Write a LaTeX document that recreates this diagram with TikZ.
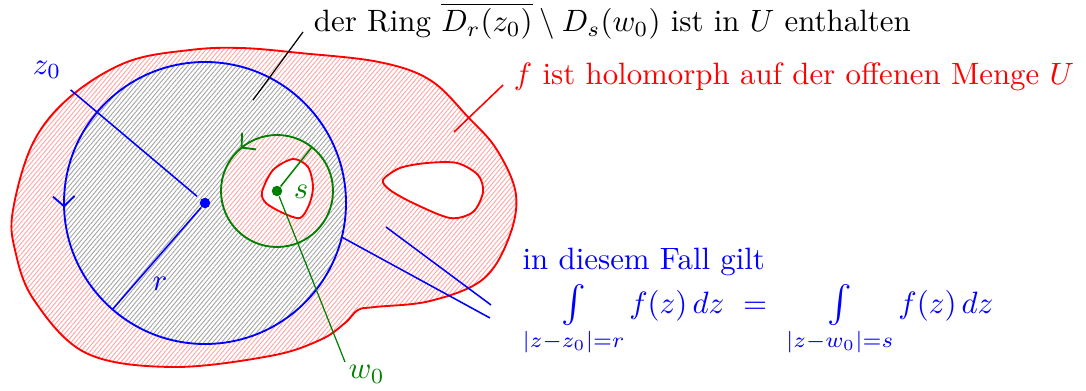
\documentclass[tikz,border=0pt]{standalone}
\usepackage{amsmath, amsfonts, amssymb}
\usepackage{xcolor}
\usepackage{tikz}
\usetikzlibrary{arrows.meta,patterns.meta,decorations.markings,calc}

\newcommand{\grossint}{\mathop{\vcenter{\hbox{\large$\int$}}}\limits}

\begin{document}
\begin{tikzpicture}[x=0.324pt, y=0.324pt,
    rand/.style={draw=red, line width=0.6pt},
    kreis/.style={line width=0.6pt},
    zeiger/.style={line width=0.5pt},
    punkt/.style={circle, fill, inner sep=0pt, minimum size=3.4pt},
    pfeil/.style={postaction={decorate}, decoration={markings,
        mark=at position #1 with {\arrow{Straight Barb[length=3.2pt,width=7pt]}}}},
    schraffurrot/.style={pattern={Lines[angle=50,distance=1.1pt,line width=0.3pt]}, pattern color=red!35},
    schraffurgrau/.style={pattern={Lines[angle=50,distance=1.1pt,line width=0.3pt]}, pattern color=gray!70}
]
\useasboundingbox (0,0) rectangle (1086,390);

% Mittelpunkte
\coordinate (mz) at (205,187);
\coordinate (mw) at (277,199);

% Menge U mit Loechern
\draw[rand, schraffurrot, even odd rule]
  plot[smooth cycle, tension=0.6] coordinates {(13,180) (15,140) (34,90) (86,37) (172,23) (270,34) (320,50) (345,67) (358,80) (375,83) (430,89) (482,110) (508,150) (516,195) (497,240) (468,273) (430,310) (379,328) (300,337) (241,342) (190,340) (127,328) (70,293) (33,247)}
  plot[smooth cycle] coordinates {(383,210) (400,222) (427,227) (457,227) (478,215) (483,198) (473,178) (450,172) (413,187) (390,200)}
  plot[smooth cycle] coordinates {(262,198) (273,220) (293,231) (308,223) (313,203) (309,185) (300,172) (283,177) (266,187)};

% Ring
\fill[white, even odd rule] (mz) circle[radius=141] (mw) circle[radius=56];
\path[schraffurgrau, even odd rule] (mz) circle[radius=141] (mw) circle[radius=56];

% Kreise
\draw[blue, kreis, pfeil=0.505] (mz) circle[radius=141];
\draw[green!50!black, kreis, pfeil=0.3625] (mw) circle[radius=56];

\node[punkt, blue] (z0) at (mz) {};
\node[punkt, green!50!black] (w0) at (mw) {};

% Radien
\coordinate (rpt) at ([shift={(229:141)}]mz);
\coordinate (spt) at ([shift={(51.5:56)}]mw);
\draw[blue, zeiger] (z0) -- (rpt);
\draw[green!50!black, zeiger] (w0) -- (spt);
\node[blue] (rlab) at (160,106) {$r$};
\node[green!50!black] (slab) at (301,198) {$s$};

% Beschriftungen
\node[blue] (z0lab) at (47,320) {$z_0$};
\draw[blue, zeiger, shorten >=1.5pt] (z0lab) -- (z0);

\node[green!50!black, anchor=north west, inner sep=1pt] (w0lab) at (345,28) {$w_0$};
\draw[green!50!black, line width=0.4pt] (w0) -- (w0lab.north west);

\coordinate (ringpt) at (253,290);
\node[anchor=base west] (ring) at (303,358) {der Ring $\overline{D_r(z_0)} \setminus D_s(w_0)$ ist in $U$ enthalten};
\draw[line width=0.4pt] (ringpt) -- (ring.base west);

\coordinate (upt) at (454,258);
\node[red, anchor=base west] (holo) at (503,305) {$f$ ist holomorph auf der offenen Menge $U$};
\draw[red, zeiger] (upt) -- (holo.base west);

\node[blue, anchor=base west, inner sep=0pt] (gilt) at (522,121) {in diesem Fall gilt};
\node[blue, anchor=base west, inner sep=0pt] (formel) at (522,77) {$\grossint_{|z-z_0|=r} f(z)\,dz\ =\ \grossint_{|z-w_0|=s} f(z)\,dz$};

\coordinate (ra) at ([shift={(-14:141)}]mz);
\coordinate (rb) at (386,163);
\coordinate (fa) at (490,72);
\coordinate (fb) at (491,85);
\draw[blue, zeiger] (ra) -- (fa);
\draw[blue, zeiger] (rb) -- (fb);
\end{tikzpicture}
\end{document}
